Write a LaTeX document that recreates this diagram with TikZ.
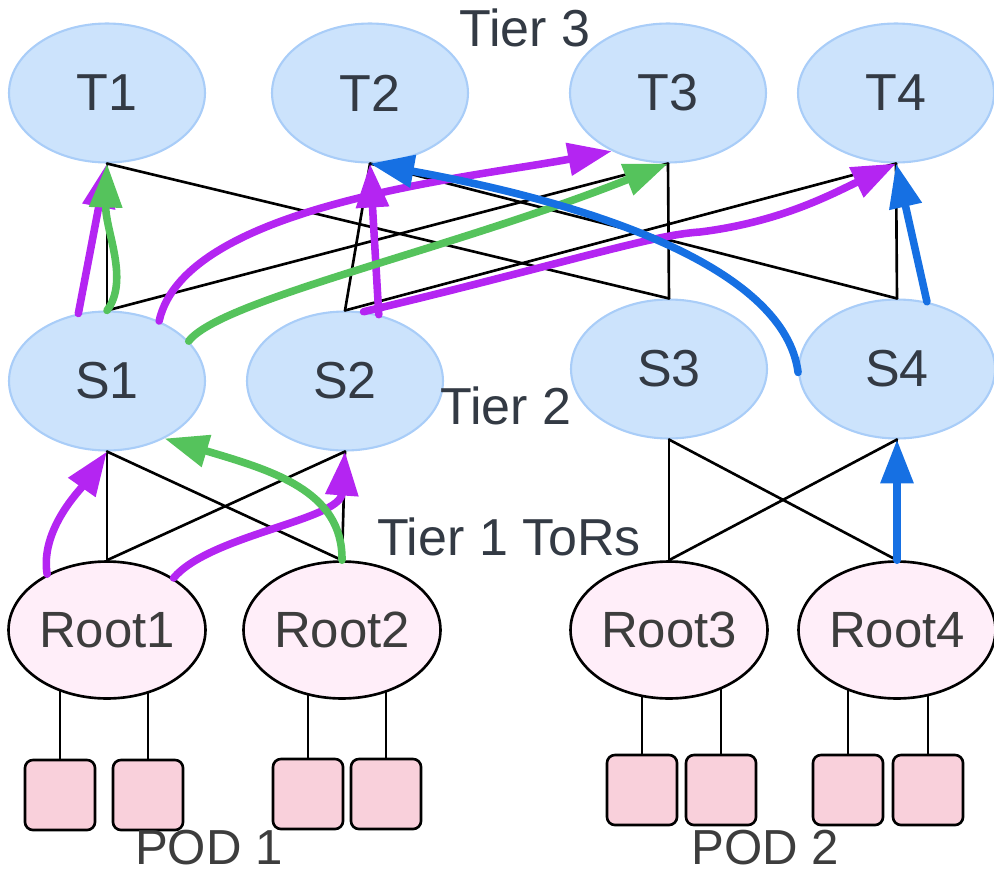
\documentclass[tikz,border=0pt]{standalone}
\usepackage{fontspec}
\setmainfont{Liberation Sans}
\usepackage{tikz}
\usetikzlibrary{arrows.meta,shapes.geometric,backgrounds}
\usepackage{xcolor}
\definecolor{tierfill}{HTML}{CCE3FC}
\definecolor{tierline}{HTML}{A9CDF8}
\definecolor{rootfill}{HTML}{FFEEF9}
\definecolor{srvfill}{HTML}{F9D0DB}
\definecolor{txtgray}{HTML}{333A44}
\definecolor{pathpurple}{HTML}{B425F2}
\definecolor{pathgreen}{HTML}{55C35C}
\definecolor{pathblue}{HTML}{1670E3}

\begin{document}
\begin{tikzpicture}[x=0.02cm,y=-0.02cm,>={Triangle[length=25pt,width=18pt]},line cap=round,
  font=\fontsize{29.6}{34}\selectfont,
  sw/.style={ellipse,draw=tierline,line width=1.2pt,fill=tierfill,text=txtgray,
    minimum width=3.92cm,minimum height=2.78cm,inner sep=0pt},
  tor/.style={ellipse,draw=black,line width=1.5pt,fill=rootfill,text=black!76,
    minimum width=3.94cm,minimum height=2.74cm,inner sep=0pt,font=\fontsize{29}{32}\selectfont},
  srv/.style={rectangle,rounded corners=4.5pt,draw=black,line width=1.5pt,fill=srvfill,
    minimum size=1.4cm,inner sep=0pt},
  tierlbl/.style={text=txtgray,inner sep=0pt},
  link/.style={black,line width=1.5pt},
  flow/.style={->,line width=4.3pt}]
\useasboundingbox (0,0) rectangle (994,876);
\node[sw] (T1) at (107,93) {T1};
\node[sw] (T2) at (370,93) {T2};
\node[sw] (T3) at (668,93) {T3};
\node[sw] (T4) at (896,93) {T4};
\node[sw] (S1) at (107,381) {S1};
\node[sw] (S2) at (345,381) {S2};
\node[sw] (S3) at (669,369) {S3};
\node[sw] (S4) at (897,369) {S4};
\node[tor] (R1) at (107,630) {Root1};
\node[tor] (R2) at (342,630) {Root2};
\node[tor] (R3) at (669,630) {Root3};
\node[tor] (R4) at (897,630) {Root4};
\node[srv] (srv1a) at (60,795) {};
\node[srv] (srv1b) at (148,795) {};
\node[srv] (srv2a) at (308,794) {};
\node[srv] (srv2b) at (386,794) {};
\node[srv] (srv3a) at (642,790) {};
\node[srv] (srv3b) at (721,790) {};
\node[srv] (srv4a) at (848,790) {};
\node[srv] (srv4b) at (928,790) {};
\node[tierlbl] (tier3) at (525,28) {Tier 3};
\node[tierlbl] (tier2) at (506,406) {Tier 2};
\node[tierlbl] (tier1) at (509,537) {Tier 1 ToRs};
\node[tierlbl,text=black!76,font=\fontsize{28}{32}\selectfont] (pod1) at (209,848) {POD 1};
\node[tierlbl,text=black!76,font=\fontsize{28}{32}\selectfont] (pod2) at (765,848) {POD 2};
\begin{scope}[on background layer]
\draw[link] (srv1a.north) -- (srv1a.north |- R1.center);
\draw[link] (srv1b.north) -- (srv1b.north |- R1.center);
\draw[link] (srv2a.north) -- (srv2a.north |- R2.center);
\draw[link] (srv2b.north) -- (srv2b.north |- R2.center);
\draw[link] (srv3a.north) -- (srv3a.north |- R3.center);
\draw[link] (srv3b.north) -- (srv3b.north |- R3.center);
\draw[link] (srv4a.north) -- (srv4a.north |- R4.center);
\draw[link] (srv4b.north) -- (srv4b.north |- R4.center);
\end{scope}
\draw[link] (T1.south) -- (S1.north);
\draw[link] (T1.south) -- (S3.north);
\draw[link] (T2.south) -- (S2.north);
\draw[link] (T2.south) -- (S4.north);
\draw[link] (T3.south) -- (S1.north);
\draw[link] (T3.south) -- (S3.north);
\draw[link] (T4.south) -- (S2.north);
\draw[link] (T4.south) -- (S4.north);
\draw[link] (S1.south) -- (R1.north);
\draw[link] (S1.south) -- (R2.north);
\draw[link] (S2.south) -- (R1.north);
\draw[link] (S2.south) -- (R2.north);
\draw[link] (S3.south) -- (R3.north);
\draw[link] (S3.south) -- (R4.north);
\draw[link] (S4.south) -- (R3.north);
\draw[link] (S4.south) -- (R4.north);
\draw[flow,pathpurple] (R1.137) .. controls (40,530) and (80,490) .. (S1.south);
\draw[flow,pathpurple] (R1.38) .. controls (210,535) and (340,520) .. (S2.south);
\draw[flow,pathpurple] (S1.113) -- (T1.south);
\draw[flow,pathpurple] (S1.49) .. controls (185,205) and (470,178) .. (T3.226);
\draw[flow,pathpurple] (S2.63) -- (T2.south);
\draw[flow,pathpurple] (S2.75) .. controls (560,265) and (650,235) .. (700,232) .. controls (780,222) and (830,195) .. (T4.south);
\draw[flow,pathgreen] (S1.north) .. controls (130,280) and (105,230) .. (T1.south);
\draw[flow,pathgreen] (S1.26) .. controls (220,300) and (450,250) .. (T3.south);
\draw[flow,pathgreen] (R2.north) .. controls (343,490) and (270,470) .. (S1.315);
\draw[flow,pathblue] (R4.north) -- (S4.south);
\draw[flow,pathblue] (S4.66) -- (T4.south);
\draw[flow,pathblue] (S4.182) .. controls (785,270) and (600,205) .. (T2.south);
\end{tikzpicture}
\end{document}
